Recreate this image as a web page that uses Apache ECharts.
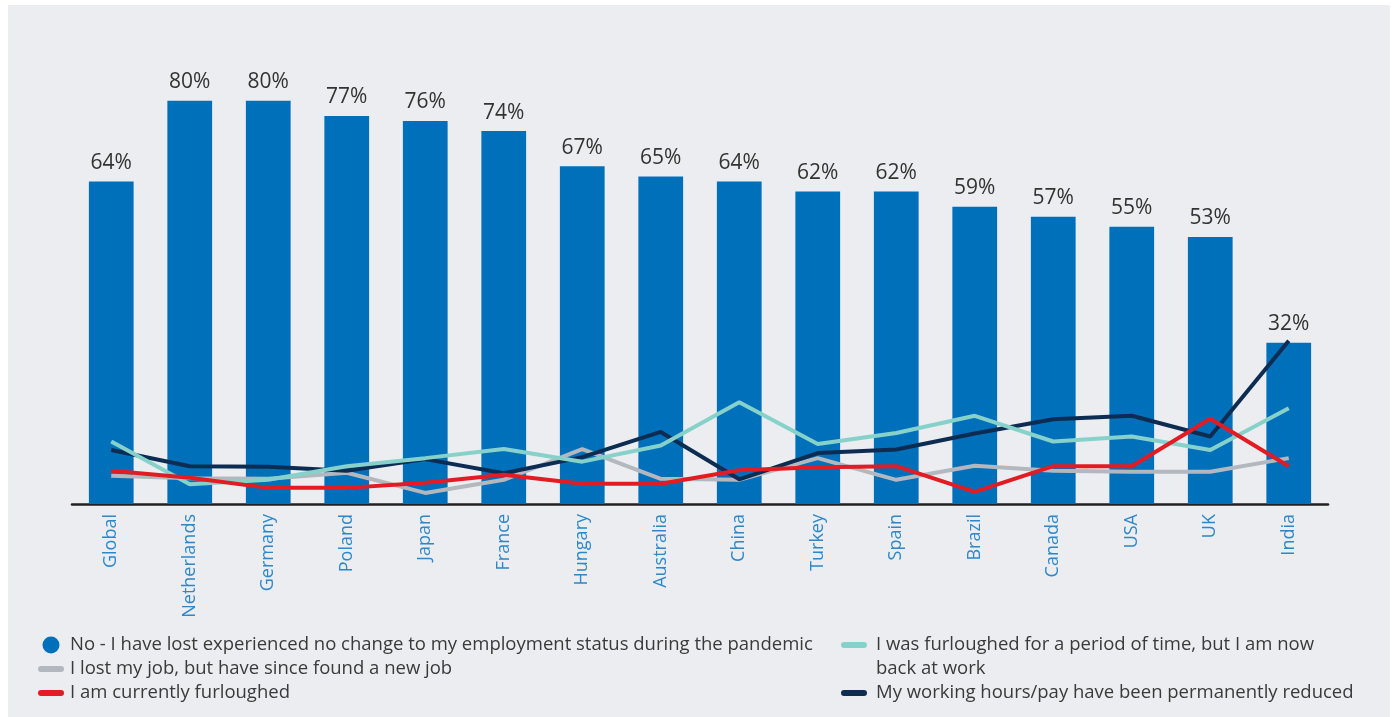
<!DOCTYPE html>
<html>
<head>
<meta charset="utf-8">
<script src="https://cdn.jsdelivr.net/npm/echarts@6/dist/echarts.min.js"></script>
<style>
  html, body { margin: 0; padding: 0; background: #ffffff; }
  #bg { position: absolute; left: 8px; top: 5px; width: 1382px; height: 712px; background: #ecedf0; }
  #chart { position: absolute; left: 0; top: 0; width: 1394px; height: 717px; }
</style>
</head>
<body>
<div id="bg"></div>
<div id="chart"></div>
<script>
const categories = ['Global','Netherlands','Germany','Poland','Japan','France','Hungary','Australia','China','Turkey','Spain','Brazil','Canada','USA','UK','India'];
const noChange = [64,80,80,77,76,74,67,65,64,62,62,59,57,55,53,32];
const lostFoundNew = [5.6,5.1,5.0,6.2,2.2,4.8,10.9,5.0,4.8,9.1,4.8,7.6,6.6,6.4,6.4,9.1];
const currentlyFurloughed = [6.6,5.2,3.2,3.2,4.2,5.8,4.0,4.0,6.7,7.3,7.5,2.4,7.5,7.5,16.9,7.5];
const furloughedBack = [12.4,3.9,4.8,7.5,9.1,10.9,8.4,11.6,20.2,11.9,14.1,17.5,12.4,13.4,10.7,19.0];
const permanentlyReduced = [10.7,7.5,7.4,6.6,8.9,6.1,9.3,14.3,4.9,10.1,10.8,14.0,16.8,17.5,13.4,32.4];

const names = {
  bar: 'No - I have lost experienced no change to my employment status during the pandemic',
  gray: 'I lost my job, but have since found a new job',
  red: 'I am currently furloughed',
  teal: 'I was furloughed for a period of time, but I am now back at work',
  navy: 'My working hours/pay have been permanently reduced'
};
const colors = { bar: '#0070bb', gray: '#b3b8be', red: '#e31b23', teal: '#86d2ca', navy: '#0c2c51' };

const circleIcon = 'path://M0,8.5a8.5,8.5 0 1,0 17,0a8.5,8.5 0 1,0 -17,0z';
const lineIcon = 'path://M3,0H23A3,3 0 0 1 23,6H3A3,3 0 0 1 3,0Z';
const font = 'Open Sans';

const legendBase = {
  orient: 'vertical',
  itemWidth: 26,
  itemHeight: 17,
  itemGap: 0,
  selectedMode: false,
  itemStyle: { borderWidth: 0 },
  textStyle: { fontFamily: font, fontSize: 18.5, lineHeight: 24, color: '#3a3a3a', padding: [0, 0, 0, 1] }
};
const rightText = Object.assign({}, legendBase.textStyle, { padding: [0, 0, 0, 4] });

const chart = echarts.init(document.getElementById('chart'), null, { renderer: 'canvas' });
chart.setOption({
  animation: false,
  backgroundColor: 'transparent',
  grid: { left: 72, right: 66, top: 0, bottom: 213, containLabel: false },
  legend: [
    Object.assign({}, legendBase, {
      left: 33, top: 628,
      data: [
        { name: names.bar, icon: circleIcon },
        { name: names.gray, icon: lineIcon },
        { name: names.red, icon: lineIcon }
      ]
    }),
    Object.assign({}, legendBase, {
      left: 836, top: 604,
      textStyle: rightText,
      formatter: function (n) { return n === names.teal ? '\nI was furloughed for a period of time, but I am now\nback at work' : n; },
      data: [ { name: names.teal, icon: lineIcon } ]
    }),
    Object.assign({}, legendBase, {
      left: 836, top: 676,
      textStyle: rightText,
      data: [ { name: names.navy, icon: lineIcon } ]
    })
  ],
  xAxis: {
    type: 'category',
    data: categories,
    axisLine: { lineStyle: { color: '#231f20', width: 2.5 } },
    axisTick: { show: false },
    axisLabel: { rotate: 90, margin: 10, color: '#2d88cb', fontFamily: font, fontSize: 18, interval: 0 }
  },
  yAxis: { type: 'value', min: 0, max: 100, show: false, splitLine: { show: false } },
  series: [
    {
      name: names.bar, type: 'bar', data: noChange, barWidth: '57%',
      itemStyle: { color: colors.bar },
      label: { show: true, position: 'top', distance: 8, formatter: '{c}%', color: '#333333', fontFamily: font, fontSize: 21 },
      z: 1
    },
    { name: names.gray, type: 'line', data: lostFoundNew, symbol: 'none', z: 3,
      lineStyle: { color: colors.gray, width: 4 }, itemStyle: { color: colors.gray } },
    { name: names.navy, type: 'line', data: permanentlyReduced, symbol: 'none', z: 4,
      lineStyle: { color: colors.navy, width: 4 }, itemStyle: { color: colors.navy } },
    { name: names.teal, type: 'line', data: furloughedBack, symbol: 'none', z: 5,
      lineStyle: { color: colors.teal, width: 4 }, itemStyle: { color: colors.teal } },
    { name: names.red, type: 'line', data: currentlyFurloughed, symbol: 'none', z: 6,
      lineStyle: { color: colors.red, width: 4 }, itemStyle: { color: colors.red } }
  ]
});
</script>
</body>
</html>
